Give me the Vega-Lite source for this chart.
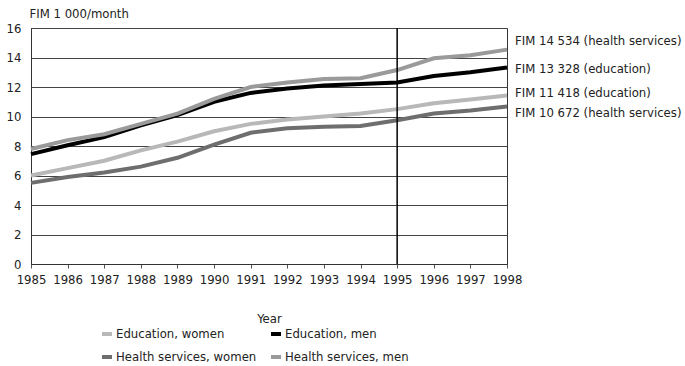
{
  "$schema": "https://vega.github.io/schema/vega-lite/v6.json",
  "width": 476,
  "height": 236,
  "autosize": "none",
  "padding": {"left": 31, "top": 28, "right": 178, "bottom": 102},
  "background": "white",
  "config": {
    "font": "DejaVu Sans Condensed, DejaVu Sans, sans-serif",
    "view": {"stroke": "#333", "strokeWidth": 1},
    "axis": {"labelFont": "DejaVu Sans Condensed, DejaVu Sans, sans-serif", "titleFont": "DejaVu Sans Condensed, DejaVu Sans, sans-serif", "labelFontSize": 13, "titleFontSize": 13, "labelColor": "#222", "titleColor": "#222", "titleFontWeight": "normal", "labelOverlap": false},
    "legend": {"labelFont": "DejaVu Sans Condensed, DejaVu Sans, sans-serif", "labelFontSize": 13, "labelColor": "#222"},
    "text": {"font": "DejaVu Sans Condensed, DejaVu Sans, sans-serif"}
  },
  "datasets": {
    "series": [
      {"year": 1985, "series": "Education, women", "value": 6.0},
      {"year": 1986, "series": "Education, women", "value": 6.5},
      {"year": 1987, "series": "Education, women", "value": 7.0},
      {"year": 1988, "series": "Education, women", "value": 7.7},
      {"year": 1989, "series": "Education, women", "value": 8.3},
      {"year": 1990, "series": "Education, women", "value": 9.0},
      {"year": 1991, "series": "Education, women", "value": 9.5},
      {"year": 1992, "series": "Education, women", "value": 9.8},
      {"year": 1993, "series": "Education, women", "value": 10.0},
      {"year": 1994, "series": "Education, women", "value": 10.2},
      {"year": 1995, "series": "Education, women", "value": 10.5},
      {"year": 1996, "series": "Education, women", "value": 10.9},
      {"year": 1997, "series": "Education, women", "value": 11.15},
      {"year": 1998, "series": "Education, women", "value": 11.418},
      {"year": 1985, "series": "Education, men", "value": 7.45},
      {"year": 1986, "series": "Education, men", "value": 8.05},
      {"year": 1987, "series": "Education, men", "value": 8.6},
      {"year": 1988, "series": "Education, men", "value": 9.4},
      {"year": 1989, "series": "Education, men", "value": 10.1},
      {"year": 1990, "series": "Education, men", "value": 11.0},
      {"year": 1991, "series": "Education, men", "value": 11.6},
      {"year": 1992, "series": "Education, men", "value": 11.9},
      {"year": 1993, "series": "Education, men", "value": 12.1},
      {"year": 1994, "series": "Education, men", "value": 12.2},
      {"year": 1995, "series": "Education, men", "value": 12.3},
      {"year": 1996, "series": "Education, men", "value": 12.75},
      {"year": 1997, "series": "Education, men", "value": 13.0},
      {"year": 1998, "series": "Education, men", "value": 13.328},
      {"year": 1985, "series": "Health services, women", "value": 5.5},
      {"year": 1986, "series": "Health services, women", "value": 5.9},
      {"year": 1987, "series": "Health services, women", "value": 6.2},
      {"year": 1988, "series": "Health services, women", "value": 6.6},
      {"year": 1989, "series": "Health services, women", "value": 7.2},
      {"year": 1990, "series": "Health services, women", "value": 8.1},
      {"year": 1991, "series": "Health services, women", "value": 8.9},
      {"year": 1992, "series": "Health services, women", "value": 9.2},
      {"year": 1993, "series": "Health services, women", "value": 9.3},
      {"year": 1994, "series": "Health services, women", "value": 9.35},
      {"year": 1995, "series": "Health services, women", "value": 9.75},
      {"year": 1996, "series": "Health services, women", "value": 10.2},
      {"year": 1997, "series": "Health services, women", "value": 10.4},
      {"year": 1998, "series": "Health services, women", "value": 10.672},
      {"year": 1985, "series": "Health services, men", "value": 7.8},
      {"year": 1986, "series": "Health services, men", "value": 8.4},
      {"year": 1987, "series": "Health services, men", "value": 8.8},
      {"year": 1988, "series": "Health services, men", "value": 9.5},
      {"year": 1989, "series": "Health services, men", "value": 10.2},
      {"year": 1990, "series": "Health services, men", "value": 11.2},
      {"year": 1991, "series": "Health services, men", "value": 12.0},
      {"year": 1992, "series": "Health services, men", "value": 12.3},
      {"year": 1993, "series": "Health services, men", "value": 12.55},
      {"year": 1994, "series": "Health services, men", "value": 12.6},
      {"year": 1995, "series": "Health services, men", "value": 13.15},
      {"year": 1996, "series": "Health services, men", "value": 13.95},
      {"year": 1997, "series": "Health services, men", "value": 14.15},
      {"year": 1998, "series": "Health services, men", "value": 14.534}
    ],
    "labels": [
      {"year": 1998, "value": 15.1, "text": "FIM 14 534 (health services)"},
      {"year": 1998, "value": 13.2, "text": "FIM 13 328 (education)"},
      {"year": 1998, "value": 11.6, "text": "FIM 11 418 (education)"},
      {"year": 1998, "value": 10.25, "text": "FIM 10 672 (health services)"}
    ],
    "marker": [{"year": 1995}]
  },
  "layer": [
    {
      "data": {"name": "series"},
      "mark": {"type": "line", "strokeWidth": 4},
      "encoding": {
        "x": {
          "field": "year", "type": "quantitative",
          "scale": {"domain": [1985, 1998], "nice": false, "zero": false},
          "axis": {"title": "Year", "values": [1985,1986,1987,1988,1989,1990,1991,1992,1993,1994,1995,1996,1997,1998], "format": "d", "grid": false, "domainColor": "#333", "tickColor": "#555", "tickSize": 4, "labelPadding": 5, "titlePadding": 26, "labelFlush": false, "labelOverlap": false}
        },
        "y": {
          "field": "value", "type": "quantitative",
          "scale": {"domain": [0, 16], "nice": false},
          "axis": {"title": "FIM 1 000/month", "titleAngle": 0, "titleAlign": "left", "titleBaseline": "bottom", "titleX": -2, "titleY": -8, "values": [0,2,4,6,8,10,12,14,16], "grid": true, "gridColor": "#444", "gridOpacity": 1, "gridWidth": 1, "domainColor": "#333", "ticks": false, "labelPadding": 10, "labelOverlap": false}
        },
        "color": {
          "field": "series", "type": "nominal",
          "scale": {"domain": ["Education, women", "Health services, women", "Education, men", "Health services, men"], "range": ["#b8b8b8", "#6e6e6e", "#000000", "#9a9a9a"]},
          "legend": {"title": null, "orient": "none", "legendX": 69, "legendY": 299, "columns": 2, "columnPadding": 6, "rowPadding": 7, "symbolType": "stroke", "symbolStrokeWidth": 4, "symbolSize": 100, "labelOffset": 2, "labelLimit": 300}
        }
      }
    },
    {
      "data": {"name": "marker"},
      "mark": {"type": "rule", "color": "#000", "strokeWidth": 1.5},
      "encoding": {
        "x": {
          "field": "year", "type": "quantitative",
          "scale": {"domain": [1985, 1998], "nice": false, "zero": false},
          "axis": {"title": "Year", "values": [1985,1986,1987,1988,1989,1990,1991,1992,1993,1994,1995,1996,1997,1998], "format": "d", "grid": false, "domainColor": "#333", "tickColor": "#555", "tickSize": 4, "labelPadding": 5, "titlePadding": 26, "labelFlush": false, "labelOverlap": false}
        }
      }
    },
    {
      "data": {"name": "labels"},
      "mark": {"type": "text", "align": "left", "baseline": "middle", "dx": 8, "fontSize": 13, "color": "#222"},
      "encoding": {
        "x": {
          "field": "year", "type": "quantitative",
          "scale": {"domain": [1985, 1998], "nice": false, "zero": false},
          "axis": {"title": "Year", "values": [1985,1986,1987,1988,1989,1990,1991,1992,1993,1994,1995,1996,1997,1998], "format": "d", "grid": false, "domainColor": "#333", "tickColor": "#555", "tickSize": 4, "labelPadding": 5, "titlePadding": 26, "labelFlush": false, "labelOverlap": false}
        },
        "y": {
          "field": "value", "type": "quantitative",
          "scale": {"domain": [0, 16], "nice": false},
          "axis": {"title": "FIM 1 000/month", "titleAngle": 0, "titleAlign": "left", "titleBaseline": "bottom", "titleX": -2, "titleY": -8, "values": [0,2,4,6,8,10,12,14,16], "grid": true, "gridColor": "#444", "gridOpacity": 1, "gridWidth": 1, "domainColor": "#333", "ticks": false, "labelPadding": 10, "labelOverlap": false}
        },
        "text": {"field": "text"}
      }
    }
  ]
}
